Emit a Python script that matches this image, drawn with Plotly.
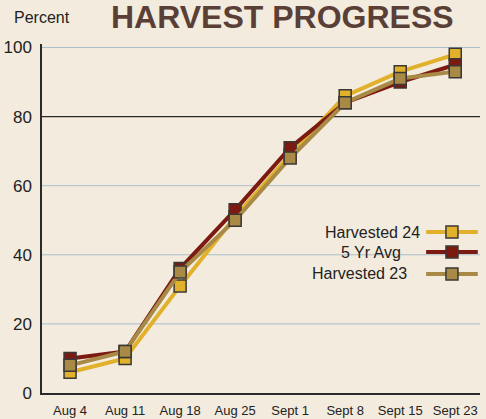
import plotly.graph_objects as go

weeks = ["Aug 4", "Aug 11", "Aug 18", "Aug 25", "Sept 1", "Sept 8", "Sept 15", "Sept 23"]
harvested_24 = [6, 10, 31, 51, 69, 86, 93, 98]
five_yr_avg = [10, 12, 36, 53, 71, 84, 90, 95]
harvested_23 = [8, 12, 35, 50, 68, 84, 91, 93]
y_ticks = [0, 20, 40, 60, 80, 100]

series = [
    ("Harvested 24", harvested_24, "#E1B12B"),
    ("5 Yr Avg", five_yr_avg, "#7C1A12"),
    ("Harvested 23", harvested_23, "#A98946"),
]

BG = "#F3EBDD"
BORDER = "#3A3835"
FONT = "Liberation Sans, Arial, sans-serif"

fig = go.Figure()
for name, vals, col in series:
    fig.add_trace(go.Scatter(
        x=list(range(len(weeks))), y=vals, mode="lines+markers", name=name,
        line=dict(color=col, width=4),
        marker=dict(symbol="square", size=12, color=col, line=dict(color=BORDER, width=1.5)),
        showlegend=False, cliponaxis=False,
    ))

shapes = []
annotations = []

# horizontal gridlines (the 80 line is dark in the original)
for t in y_ticks[1:]:
    dark = (t == 80)
    shapes.append(dict(type="line", xref="paper", yref="y", x0=0, x1=1, y0=t, y1=t,
                       line=dict(color="#2A2A2A" if dark else "#A9BECB", width=1.2 if dark else 1),
                       layer="below"))

# custom legend (text left, symbol right)
leg_y = [0.461, 0.404, 0.341]
leg_text_x = [0.868, 0.825, 0.839]
for (name, vals, col), ly, tx in zip(series, leg_y, leg_text_x):
    shapes.append(dict(type="line", xref="paper", yref="paper", x0=0.877, x1=0.995, y0=ly, y1=ly,
                       line=dict(color=col, width=4)))
    shapes.append(dict(type="rect", xref="paper", yref="paper", xsizemode="pixel", ysizemode="pixel",
                       xanchor=0.936, yanchor=ly, x0=-6, x1=6, y0=-6, y1=6,
                       fillcolor=col, line=dict(color=BORDER, width=1.5)))
    annotations.append(dict(text=name, xref="paper", yref="paper", x=tx, y=ly, xanchor="right",
                            yanchor="middle", showarrow=False, font=dict(size=16, color="#222", family=FONT)))

annotations.append(dict(text="<b>HARVEST PROGRESS</b>", xref="paper", yref="paper", x=0.55, y=1.078,
                        xanchor="center", yanchor="middle", showarrow=False,
                        font=dict(size=32, color="#5A3F37", family=FONT)))
annotations.append(dict(text="Percent", xref="paper", yref="paper", x=-0.068, y=1.077,
                        xanchor="left", yanchor="middle", showarrow=False,
                        font=dict(size=16, color="#222", family=FONT)))

fig.update_layout(
    width=486, height=419,
    margin=dict(l=42, r=6, t=44, b=26, autoexpand=False),
    paper_bgcolor=BG, plot_bgcolor="rgba(0,0,0,0)",
    font=dict(family=FONT, color="#222"),
    shapes=shapes, annotations=annotations,
    xaxis=dict(range=[-0.51, 7.45], tickvals=list(range(len(weeks))), ticktext=weeks,
               automargin=False,
               showgrid=False, zeroline=False, showline=True, linecolor="#2A2A2A", linewidth=1.5,
               ticks="outside", ticklen=5, tickcolor="rgba(0,0,0,0)", tickfont=dict(size=13)),
    yaxis=dict(range=[0, 101], tickvals=y_ticks, showgrid=False,
               automargin=False,
               zeroline=False, showline=True, linecolor="#2A2A2A", linewidth=1.5,
               ticks="outside", ticklen=5, tickcolor="rgba(0,0,0,0)", tickfont=dict(size=17)),
)

fig.write_html("out.html", config={"displayModeBar": False},
               post_script="document.body.style.margin='0';document.body.style.overflow='hidden';")
